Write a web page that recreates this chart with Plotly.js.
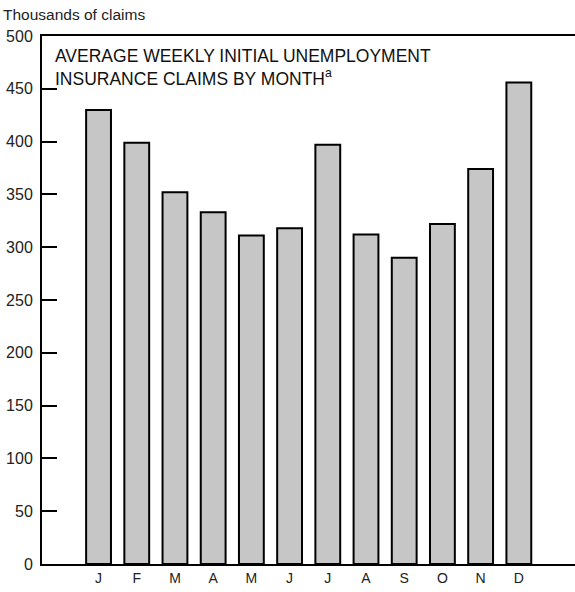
<!DOCTYPE html>
<html>
<head>
<meta charset="utf-8">
<script src="https://cdn.plot.ly/plotly-3.0.1.min.js"></script>
<style>body{margin:0;padding:0;background:#fff}#chart{width:575px;height:592px}</style>
</head>
<body>
<div id="chart"></div>
<script>
const months = ["J","F","M","A","M","J","J","A","S","O","N","D"];
const claims = [430, 399, 352, 333, 311, 318, 397, 312, 290, 322, 374, 456];
const yTicks = [0, 50, 100, 150, 200, 250, 300, 350, 400, 450, 500];
const xIdx = months.map((m, i) => i);

const sans = '"Liberation Sans", Arial, sans-serif';

const trace = {
  type: 'bar',
  x: xIdx,
  y: claims,
  width: 0.65,
  marker: {color: '#c6c6c6', line: {color: '#000', width: 2}},
  hoverinfo: 'skip'
};

const layout = {
  width: 575, height: 592,
  margin: {l: 42, r: 0, t: 36, b: 28, pad: 0},
  paper_bgcolor: '#fff', plot_bgcolor: '#fff',
  showlegend: false,
  xaxis: {
    range: [-1.48, 12.47],
    tickmode: 'array', tickvals: xIdx, ticktext: months,
    showline: true, linecolor: '#000', linewidth: 2, mirror: true,
    ticks: '', showgrid: false, zeroline: false,
    tickfont: {family: sans, size: 14, color: '#222'}
  },
  yaxis: {
    range: [0, 500],
    tickmode: 'array', tickvals: yTicks, ticktext: yTicks.map(String),
    showline: true, linecolor: '#000', linewidth: 2,
    ticks: 'inside', ticklen: 15, tickwidth: 2, tickcolor: '#000',
    ticklabelstandoff: 4,
    showgrid: false, zeroline: false,
    tickfont: {family: sans, size: 16, color: '#222'}
  },
  annotations: [
    {xref: 'paper', yref: 'paper', x: 0.021, y: 0.985, xanchor: 'left', yanchor: 'top', align: 'left',
     showarrow: false,
     text: 'AVERAGE WEEKLY INITIAL UNEMPLOYMENT<br>INSURANCE CLAIMS BY MONTH<sup>a</sup>',
     font: {family: sans, size: 17.5, color: '#111'}},
    {xref: 'paper', yref: 'paper', x: -0.077, y: 1.0, xanchor: 'left', yanchor: 'bottom',
     yshift: 11, showarrow: false, text: 'Thousands of claims',
     font: {family: sans, size: 15.5, color: '#222'}}
  ]
};

Plotly.newPlot('chart', [trace], layout, {staticPlot: true, displayModeBar: false});
</script>
</body>
</html>
